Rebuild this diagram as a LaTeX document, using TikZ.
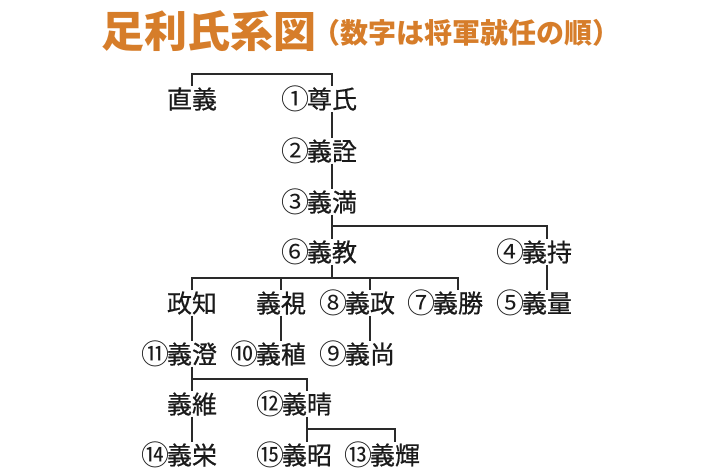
\documentclass[tikz,border=0pt]{standalone}
\usepackage{fontspec}
\newfontfamily\jp{Noto Sans CJK JP}
\newfontfamily\jpm[FakeBold=0.6]{Noto Sans CJK JP}
\definecolor{titleorange}{HTML}{D67D2A}
\definecolor{ink}{HTML}{1A1A1A}
\definecolor{linec}{HTML}{2A2A2A}
\newcommand{\cnum}[1]{\kern-3pt#1\kern-3.5pt}
\tikzset{
  nm/.style={inner xsep=0pt, inner ysep=1pt, font=\jpm\fontsize{25}{25}\selectfont, text=ink},
  num/.style={inner sep=0pt, anchor=east, xshift=-0.5pt, font=\jp\fontsize{28}{28}\selectfont, text=ink},
  conn/.style={draw=linec, line width=1.4pt},
  ttl/.style={inner sep=0pt, anchor=west, text=titleorange}
}
\begin{document}
\begin{tikzpicture}[x=1pt,y=-1pt]
\useasboundingbox (0,0) rectangle (714,476);
% title
\node[ttl, font=\jp\bfseries\fontsize{43}{43}\selectfont] (title) at (101,31) {足利氏系図};
\node[ttl, font=\jp\bfseries\fontsize{28}{28}\selectfont] (sub) at (312,33) {（数字は将軍就任の順）};
% names
\node[nm] (naoyoshi) at (192,99) {直義};
\node[nm] (takauji) at (332,99) {尊氏};
\node[nm] (yoshiakira) at (332,151) {義詮};
\node[nm] (yoshimitsu) at (332,202) {義満};
\node[nm] (yoshinori) at (332,252) {義教};
\node[nm] (yoshimochi) at (547,252) {義持};
\node[nm] (yoshikazu) at (547,303) {義量};
\node[nm] (masatomo) at (192,303) {政知};
\node[nm] (yoshimi) at (281,303) {義視};
\node[nm] (yoshimasa) at (370,303) {義政};
\node[nm] (yoshikatsu) at (458,303) {義勝};
\node[nm] (yoshizumi) at (192,354) {義澄};
\node[nm] (yoshitane) at (281,354) {義稙};
\node[nm] (yoshihisa) at (370,354) {義尚};
\node[nm] (yoshitsuna) at (192,404) {義維};
\node[nm] (yoshiharu) at (307,404) {義晴};
\node[nm] (yoshihide) at (192,455) {義栄};
\node[nm] (yoshiaki) at (307,455) {義昭};
\node[nm] (yoshiteru) at (395,455) {義輝};
% numbers
\node[num] (n1) at (takauji.west) {\cnum{①}};
\node[num] (n2) at (yoshiakira.west) {\cnum{②}};
\node[num] (n3) at (yoshimitsu.west) {\cnum{③}};
\node[num] (n6) at (yoshinori.west) {\cnum{⑥}};
\node[num] (n4) at (yoshimochi.west) {\cnum{④}};
\node[num] (n5) at (yoshikazu.west) {\cnum{⑤}};
\node[num] (n8) at (yoshimasa.west) {\cnum{⑧}};
\node[num] (n7) at (yoshikatsu.west) {\cnum{⑦}};
\node[num] (n11) at (yoshizumi.west) {\cnum{⑪}};
\node[num] (n10) at (yoshitane.west) {\cnum{⑩}};
\node[num] (n9) at (yoshihisa.west) {\cnum{⑨}};
\node[num] (n12) at (yoshiharu.west) {\cnum{⑫}};
\node[num] (n14) at (yoshihide.west) {\cnum{⑭}};
\node[num] (n15) at (yoshiaki.west) {\cnum{⑮}};
\node[num] (n13) at (yoshiteru.west) {\cnum{⑬}};
% junction coordinates
\coordinate (jtop) at (262,74);
\coordinate (j3) at (332,226);
\coordinate (j6) at (332,278);
\coordinate (j11) at (192,379);
\coordinate (j12) at (307,429);
% connectors
\draw[conn] (naoyoshi.north) |- (jtop) -| (takauji.north);
\draw[conn] (takauji.south) -- (yoshiakira.north);
\draw[conn] (yoshiakira.south) -- (yoshimitsu.north);
\draw[conn] (yoshimitsu.south) -- (yoshinori.north);
\draw[conn] (j3) -| (yoshimochi.north);
\draw[conn] (yoshimochi.south) -- (yoshikazu.north);
\draw[conn] (yoshinori.south) -- (j6);
\draw[conn] (masatomo.north) |- (j6) -| (yoshikatsu.north);
\draw[conn] (j6 -| yoshimi.north) -- (yoshimi.north);
\draw[conn] (j6 -| yoshimasa.north) -- (yoshimasa.north);
\draw[conn] (masatomo.south) -- (yoshizumi.north);
\draw[conn] (yoshimi.south) -- (yoshitane.north);
\draw[conn] (yoshimasa.south) -- (yoshihisa.north);
\draw[conn] (yoshizumi.south) -- (yoshitsuna.north);
\draw[conn] (j11) -| (yoshiharu.north);
\draw[conn] (yoshitsuna.south) -- (yoshihide.north);
\draw[conn] (yoshiharu.south) -- (yoshiaki.north);
\draw[conn] (j12) -| (yoshiteru.north);
\end{tikzpicture}
\end{document}
